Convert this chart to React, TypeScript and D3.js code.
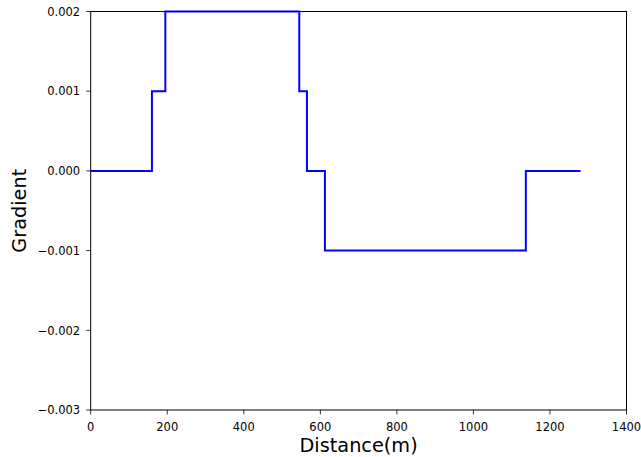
import React from "react";
import * as d3 from "d3";

const distances = [0, 160, 195, 545, 565, 612, 1137, 1280];
const gradients = [0, 0.001, 0.002, 0.001, 0, -0.001, 0, 0];
const xTicks = [0, 200, 400, 600, 800, 1000, 1200, 1400];
const yTicks = [-0.003, -0.002, -0.001, 0, 0.001, 0.002];

const W = 641, H = 457;
const L = 90.7, R = 626.5, T = 11.5, B = 410;

export default function App() {
  const x = d3.scaleLinear().domain([0, 1400]).range([L, R]);
  const y = d3.scaleLinear().domain([-0.003, 0.002]).range([B, T]);
  const pts = distances.map((d, i) => [d, gradients[i]] as [number, number]);
  const line = d3.line<[number, number]>().x(d => x(d[0])).y(d => y(d[1])).curve(d3.curveStepAfter);
  const fmt = (v: number) => (v < 0 ? "\u2212" : "") + Math.abs(v).toFixed(3);
  return (
    <svg width={W} height={H} style={{ position: "fixed", left: 0, top: 0, background: "#fff" }}
      fontFamily="DejaVu Sans">
      <rect x={0} y={0} width={W} height={H} fill="#fff" />
      <path d={line(pts) || ""} fill="none" stroke="#0000ff" strokeWidth={2} strokeLinejoin="miter" />
      <rect x={L} y={T} width={R - L} height={B - T} fill="none" stroke="#000" strokeWidth={1} />
      {xTicks.map(t => (
        <g key={t}>
          <line x1={x(t)} x2={x(t)} y1={B} y2={B + 4.5} stroke="#000" strokeWidth={0.8} />
          <text x={x(t)} y={B + 20.5} textAnchor="middle" fontSize={11.5}>{t}</text>
        </g>
      ))}
      {yTicks.map(t => (
        <g key={t}>
          <line x1={L - 4.5} x2={L} y1={y(t)} y2={y(t)} stroke="#000" strokeWidth={0.8} />
          <text x={L - 10.5} y={y(t) + 4.2} textAnchor="end" fontSize={11.5}>{fmt(t)}</text>
        </g>
      ))}
      <text x={(L + R) / 2} y={452} textAnchor="middle" fontSize={19.3}>Distance(m)</text>
      <text transform={`translate(26,${(T + B) / 2}) rotate(-90)`} textAnchor="middle" fontSize={19.3}>Gradient</text>
    </svg>
  );
}
